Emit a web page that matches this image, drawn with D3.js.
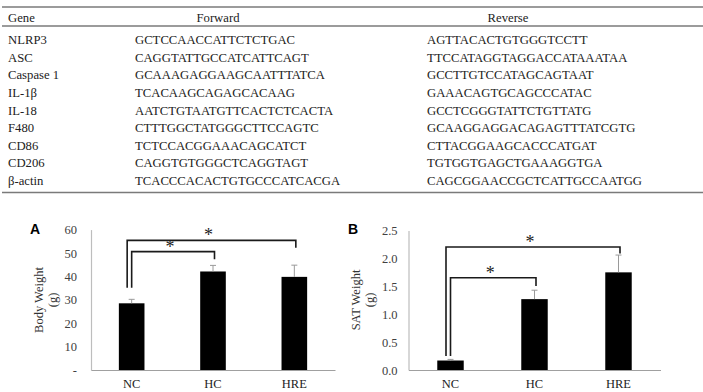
<!DOCTYPE html>
<html>
<head>
<meta charset="utf-8">
<script src="https://cdn.jsdelivr.net/npm/d3@7"></script>
<style>
  html, body { margin: 0; padding: 0; background: #fff; }
  svg { display: block; }
  svg text { font-family: "Liberation Serif", "DejaVu Serif", "Times New Roman", serif; }
  svg text.letter { font-family: "Liberation Sans", Arial, sans-serif; font-weight: bold; }
</style>
</head>
<body>
<div id="chart"></div>
<script>
// table of primers
const tableHeader = ["Gene", "Forward", "Reverse"];
const genes = ["NLRP3", "ASC", "Caspase 1", "IL-1β", "IL-18", "F480", "CD86", "CD206", "β-actin"];
const forwardSeq = [
  "GCTCCAACCATTCTCTGAC", "CAGGTATTGCCATCATTCAGT", "GCAAAGAGGAAGCAATTTATCA",
  "TCACAAGCAGAGCACAAG", "AATCTGTAATGTTCACTCTCACTA", "CTTTGGCTATGGGCTTCCAGTC",
  "TCTCCACGGAAACAGCATCT", "CAGGTGTGGGCTCAGGTAGT", "TCACCCACACTGTGCCCATCACGA"
];
const reverseSeq = [
  "AGTTACACTGTGGGTCCTT", "TTCCATAGGTAGGACCATAAATAA", "GCCTTGTCCATAGCAGTAAT",
  "GAAACAGTGCAGCCCATAC", "GCCTCGGGTATTCTGTTATG", "GCAAGGAGGACAGAGTTTATCGTG",
  "CTTACGGAAGCACCCATGAT", "TGTGGTGAGCTGAAAGGTGA", "CAGCGGAACCGCTCATTGCCAATGG"
];

// bar charts
const groups = ["NC", "HC", "HRE"];
const bodyWeight = [28.5, 42.1, 39.8];
const bodyWeightErr = [1.7, 2.6, 5.0];
const bodyTicks = [0, 10, 20, 30, 40, 50, 60];
const satWeight = [0.17, 1.27, 1.75];
const satWeightErr = [0.02, 0.16, 0.31];
const satTicks = [0, 0.5, 1.0, 1.5, 2.0, 2.5];

// significance brackets: [from, to, bracket level, left leg end, right leg end]
const bodySig = [["NC", "HC", 50.6, 35.1, 47.3], ["NC", "HRE", 55.4, 35.1, 52.2]];
const satSig = [["NC", "HC", 1.654, 0.25, 1.505], ["NC", "HRE", 2.204, 0.25, 2.09]];

const W = 703, H = 392;
const svg = d3.select("#chart").append("svg").attr("width", W).attr("height", H);

// ---- table ----
const tbl = svg.append("g").attr("font-size", 12.7).attr("fill", "#222");
const colX = [8, 135, 427];
const rowY = d3.scaleLinear().domain([0, genes.length - 1]).range([40, 181]);

[7, 26, 192.5].forEach(y => {
  tbl.append("line").attr("x1", 2).attr("x2", W).attr("y1", y).attr("y2", y)
    .attr("stroke", "#7a7a7a").attr("stroke-width", 1.5);
});
tbl.append("text").attr("x", colX[0]).attr("y", 17.5).attr("dominant-baseline", "central").text(tableHeader[0]);
tbl.append("text").attr("x", 218).attr("y", 17.5).attr("text-anchor", "middle").attr("dominant-baseline", "central").text(tableHeader[1]);
tbl.append("text").attr("x", 508).attr("y", 17.5).attr("text-anchor", "middle").attr("dominant-baseline", "central").text(tableHeader[2]);

genes.forEach((g, i) => {
  const y = rowY(i);
  tbl.append("text").attr("x", colX[0]).attr("y", y).attr("dominant-baseline", "central").text(g);
  tbl.append("text").attr("x", colX[1]).attr("y", y).attr("dominant-baseline", "central").text(forwardSeq[i]);
  tbl.append("text").attr("x", colX[2]).attr("y", y).attr("dominant-baseline", "central").text(reverseSeq[i]);
});

// ---- bar panel ----
function panel(opt) {
  const g = svg.append("g");
  const x = d3.scaleBand().domain(groups).range([opt.x0, opt.x1]).paddingInner(0.685).paddingOuter(0.3425);
  const y = d3.scaleLinear().domain([0, opt.max]).range([370, opt.yTop]);

  // panel letter
  g.append("text").attr("class", "letter").attr("x", opt.letterX).attr("y", 229).attr("dominant-baseline", "central")
    .attr("font-size", 14).attr("fill", "#000").text(opt.letter);

  // y axis
  const ya = g.append("g").attr("transform", `translate(${opt.x0},0)`)
    .call(d3.axisLeft(y).tickValues(opt.ticks).tickSize(0).tickPadding(opt.tickPad).tickFormat(opt.fmt));
  ya.select(".domain").attr("stroke", "#bdbdbd").attr("stroke-width", 1.2);
  ya.selectAll("text").attr("font-size", 12.5).attr("fill", "#404040");

  // bars
  g.append("g").selectAll("rect").data(groups).join("rect")
    .attr("x", d => x(d)).attr("width", x.bandwidth())
    .attr("y", (d, i) => y(opt.vals[i]))
    .attr("height", (d, i) => y(0) - y(opt.vals[i]))
    .attr("fill", "#000");

  // error bars (upper only)
  const eb = g.append("g").attr("stroke", "#9a9a9a").attr("stroke-width", 1);
  groups.forEach((d, i) => {
    const cx = x(d) + x.bandwidth() / 2;
    const top = y(opt.vals[i] + opt.errs[i]);
    eb.append("line").attr("x1", cx).attr("x2", cx).attr("y1", y(opt.vals[i])).attr("y2", top);
    eb.append("line").attr("x1", cx - 3).attr("x2", cx + 3).attr("y1", top).attr("y2", top);
  });

  // x axis
  const xa = g.append("g").attr("transform", `translate(0,${y(0)})`)
    .call(d3.axisBottom(x).tickSize(0).tickPadding(9));
  xa.select(".domain").attr("stroke", "#a0a0a0").attr("stroke-width", 1.2);
  xa.selectAll("text").attr("font-size", 12.5).attr("fill", "#222");

  // y title (two lines)
  const t = g.append("text").attr("font-size", 12.5).attr("fill", "#333")
    .attr("text-anchor", "middle").attr("dominant-baseline", "central");
  t.append("tspan").attr("x", 0).attr("dy", 0).text(opt.title);
  t.append("tspan").attr("x", 0).attr("dy", 14).text("(g)");
  t.attr("transform", `translate(${opt.titleX},300) rotate(-90)`);

  // brackets
  const br = g.append("g");
  opt.sig.forEach(([a, b, lvl, lEnd, rEnd], k) => {
    const cA = x(a) + x.bandwidth() / 2;
    const cB = x(b) + x.bandwidth() / 2;
    const lx = k === 0 ? cA : cA - 4.5;
    const rx = cB + 1.5;
    const path = d3.path();
    path.moveTo(lx, y(lEnd));
    path.lineTo(lx, y(lvl));
    path.lineTo(rx, y(lvl));
    path.lineTo(rx, y(rEnd));
    br.append("path").attr("d", path.toString()).attr("fill", "none")
      .attr("stroke", "#1a1a1a").attr("stroke-width", 1.6);
    br.append("text").attr("x", (lx + rx) / 2 - 3).attr("y", y(lvl) + 1)
      .attr("text-anchor", "middle").attr("font-size", 18)
      .attr("fill", "#222").text("*");
  });
}

panel({
  letter: "A", letterX: 30, x0: 91, x1: 335, yTop: 229.6, max: 60,
  ticks: bodyTicks, fmt: d => d === 0 ? "-" : d3.format("d")(d), tickPad: 14,
  vals: bodyWeight, errs: bodyWeightErr, title: "Body Weight", titleX: 38.5, sig: bodySig
});

panel({
  letter: "B", letterX: 348, x0: 408.5, x1: 660.5, yTop: 230.5, max: 2.5,
  ticks: satTicks, fmt: d3.format(".1f"), tickPad: 11,
  vals: satWeight, errs: satWeightErr, title: "SAT Weight", titleX: 355.5, sig: satSig
});
</script>
</body>
</html>
